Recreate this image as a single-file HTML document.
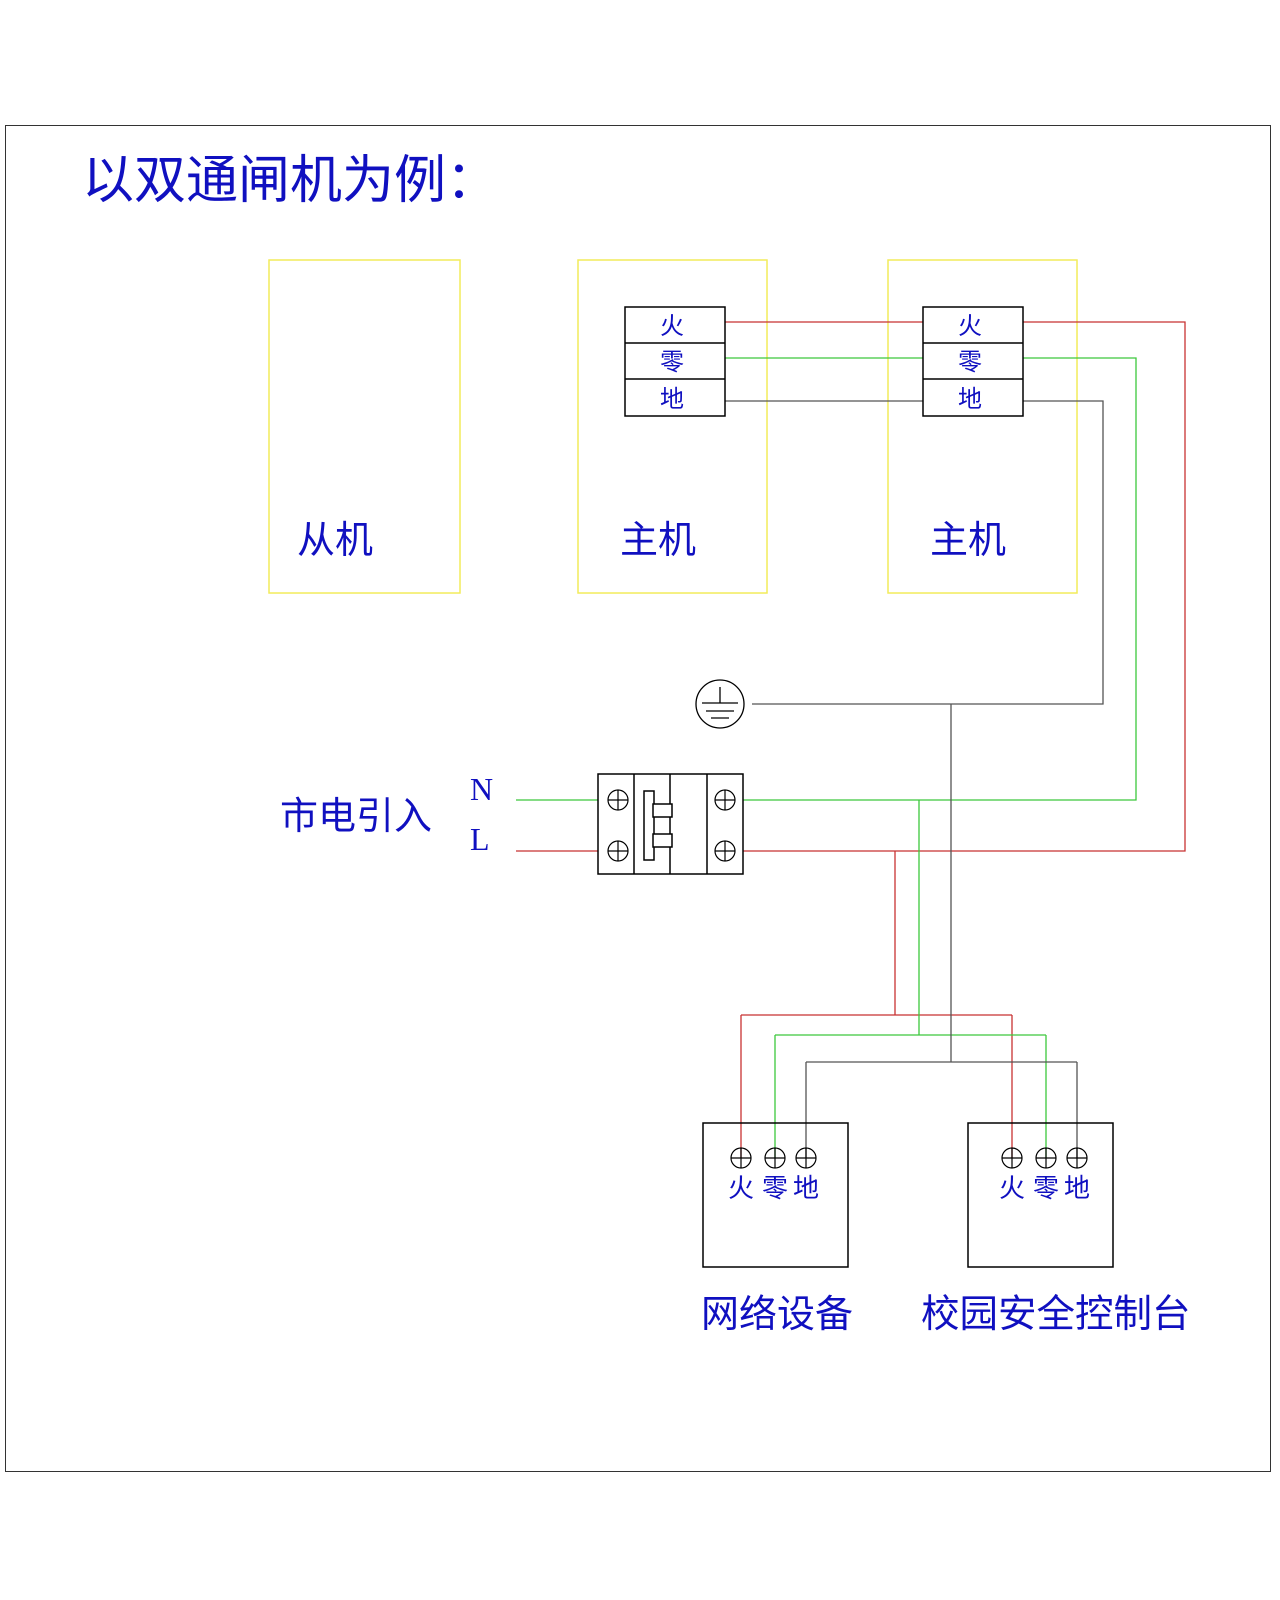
<!DOCTYPE html>
<html><head><meta charset="utf-8"><style>
html,body{margin:0;padding:0;background:#fff;width:1280px;height:1600px;overflow:hidden}
svg text{font-family:"Liberation Sans","Noto Sans CJK SC",sans-serif;fill:#1010c0}
</style></head><body>
<svg width="1280" height="1600" xmlns="http://www.w3.org/2000/svg">
<rect x="5.5" y="125.5" width="1265" height="1346" fill="none" stroke="#333" stroke-width="1"/>
<text x="82" y="198" font-size="52">以双通闸机为例：</text>
<g fill="none" stroke="#f2ec5a" stroke-width="1.5">
<rect x="269" y="260" width="191" height="333"/>
<rect x="578" y="260" width="189" height="333"/>
<rect x="888" y="260" width="189" height="333"/>
</g>
<text x="297" y="553" font-size="38">从机</text>
<text x="620" y="553" font-size="38">主机</text>
<text x="930" y="553" font-size="38">主机</text>
<g fill="none" stroke-width="1.3">
<path d="M725 322H923M1023 322H1185V851H725" stroke="#c83232"/>
<path d="M725 358H923M1023 358H1136V800H725" stroke="#3cc83c"/>
<path d="M725 401H923M1023 401H1103V704H752" stroke="#555"/>
<path d="M516 800H598" stroke="#3cc83c"/>
<path d="M516 851H598" stroke="#c83232"/>
<path d="M895 851V1015M741 1015H1012M741 1015V1158M1012 1015V1158" stroke="#c83232"/>
<path d="M919 800V1035M775 1035H1046M775 1035V1158M1046 1035V1158" stroke="#3cc83c"/>
<path d="M951 704V1062M806 1062H1077M806 1062V1158M1077 1062V1158" stroke="#555"/>
</g>
<g fill="none" stroke="#000" stroke-width="1.5">
<rect x="625" y="307" width="100" height="109"/><path d="M625 343H725M625 379H725"/>
<rect x="923" y="307" width="100" height="109"/><path d="M923 343H1023M923 379H1023"/>
</g>
<g font-size="24" text-anchor="middle">
<text x="672" y="334">火</text><text x="672" y="370">零</text><text x="672" y="407">地</text>
<text x="970" y="334">火</text><text x="970" y="370">零</text><text x="970" y="407">地</text>
</g>
<g fill="none" stroke="#000" stroke-width="1.3">
<circle cx="720" cy="704" r="24"/>
<path d="M720 687V703M702 703H738M706 711H734M711 718H729"/>
</g>
<g fill="#fff" stroke="#000" stroke-width="1.5">
<rect x="598" y="774" width="145" height="100"/>
<path d="M634 774V874M670 774V874M707 774V874" fill="none"/>
<rect x="644" y="791" width="10" height="69"/>
<rect x="653" y="804" width="19" height="13"/>
<rect x="653" y="834" width="19" height="13"/>
</g>
<g fill="none" stroke="#000" stroke-width="1.2">
<circle cx="618" cy="800" r="10"/><path d="M608 800H628M618 790V810"/>
<circle cx="618" cy="851" r="10"/><path d="M608 851H628M618 841V861"/>
<circle cx="725" cy="800" r="10"/><path d="M715 800H735M725 790V810"/>
<circle cx="725" cy="851" r="10"/><path d="M715 851H735M725 841V861"/>
</g>
<text x="280" y="829" font-size="38">市电引入</text>
<text x="470" y="800" font-size="32" style="font-family:'Liberation Serif',serif">N</text>
<text x="470" y="850" font-size="32" style="font-family:'Liberation Serif',serif">L</text>
<g fill="none" stroke="#000" stroke-width="1.5">
<rect x="703" y="1123" width="145" height="144"/>
<rect x="968" y="1123" width="145" height="144"/>
</g>
<g fill="none" stroke="#000" stroke-width="1.2">
<circle cx="741" cy="1158" r="10"/><path d="M731 1158H751M741 1148V1168"/>
<circle cx="775" cy="1158" r="10"/><path d="M765 1158H785M775 1148V1168"/>
<circle cx="806" cy="1158" r="10"/><path d="M796 1158H816M806 1148V1168"/>
<circle cx="1012" cy="1158" r="10"/><path d="M1002 1158H1022M1012 1148V1168"/>
<circle cx="1046" cy="1158" r="10"/><path d="M1036 1158H1056M1046 1148V1168"/>
<circle cx="1077" cy="1158" r="10"/><path d="M1067 1158H1087M1077 1148V1168"/>
</g>
<g font-size="26" text-anchor="middle">
<text x="741" y="1197">火</text><text x="775" y="1197">零</text><text x="806" y="1197">地</text>
<text x="1012" y="1197">火</text><text x="1046" y="1197">零</text><text x="1077" y="1197">地</text>
</g>
<text x="701" y="1327" font-size="38">网络设备</text>
<text x="921" y="1327" font-size="38.5">校园安全控制台</text>
</svg>
</body></html>
